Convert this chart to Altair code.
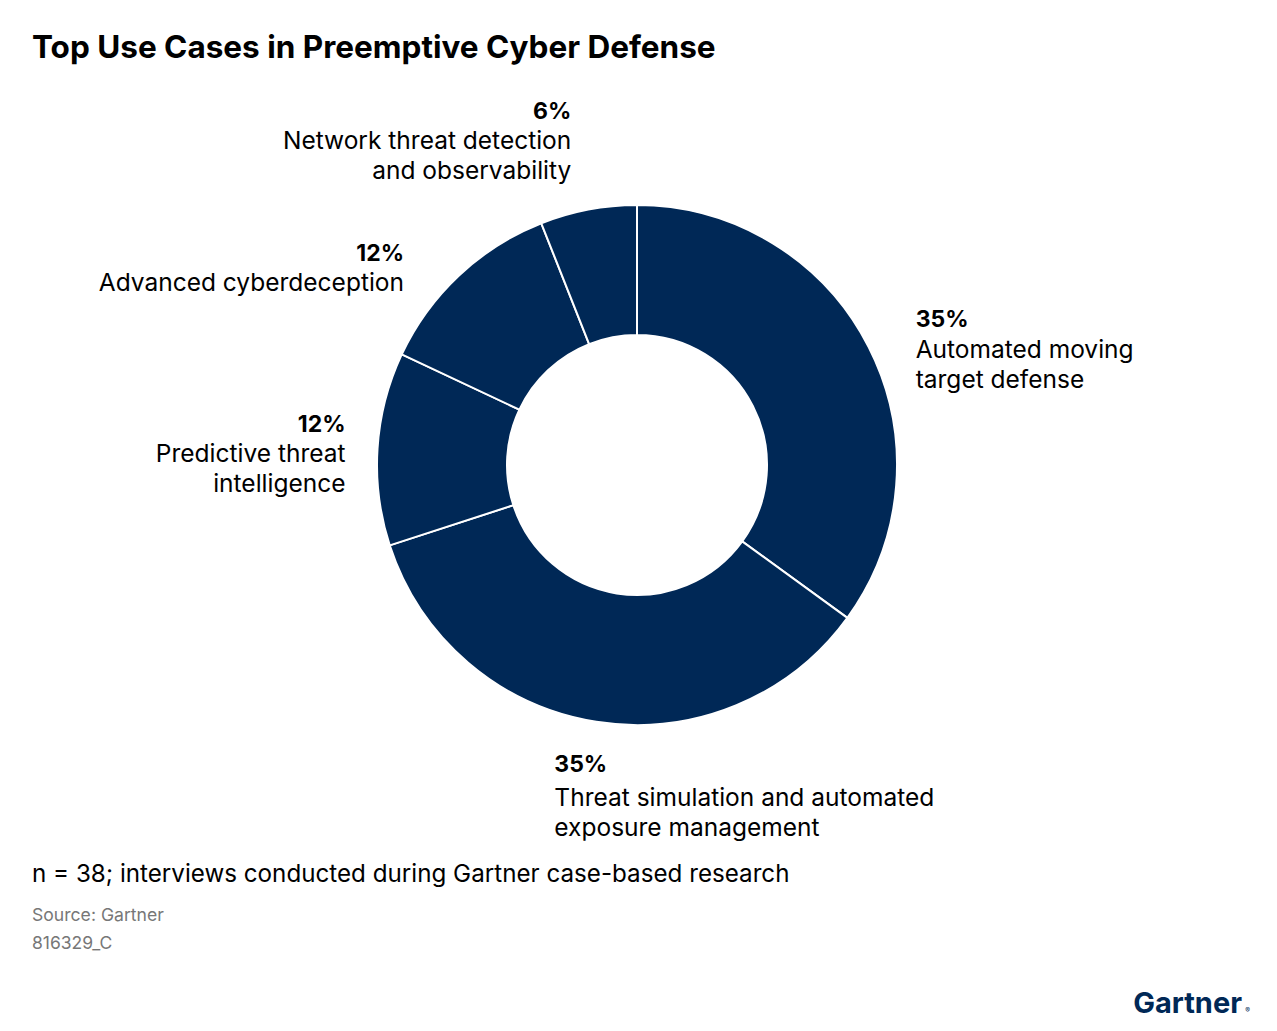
import altair as alt
import pandas as pd

# ---- data ----
categories = [
    "Automated moving target defense",
    "Threat simulation and automated exposure management",
    "Predictive threat intelligence",
    "Advanced cyberdeception",
    "Network threat detection and observability",
]
label_lines = [
    ["Automated moving", "target defense"],
    ["Threat simulation and automated", "exposure management"],
    ["Predictive threat", "intelligence"],
    ["Advanced cyberdeception"],
    ["Network threat detection", "and observability"],
]
values = [35, 35, 12, 12, 6]

title_text = "Top Use Cases in Preemptive Cyber Defense"
note_text = "n = 38; interviews conducted during Gartner case-based research"
source_text = "Source: Gartner"
id_text = "816329_C"
logo_text = "Gartner"

df = pd.DataFrame({
    "idx": list(range(len(values))),
    "category": categories,
    "value": values,
    "pct": [f"{v}%" for v in values],
    "name": ["\n".join(l) for l in label_lines],
})

NAVY = "#002856"
FONT = "Inter"
CX, CY = 629, 457
theta_scale = alt.Scale(domain=[0, 100])

arcs = alt.Chart(df).mark_arc(
    innerRadius=130, outerRadius=260, stroke="white", strokeWidth=2, color=NAVY
).encode(
    theta=alt.Theta("value:Q", stack=True, scale=theta_scale),
    order=alt.Order("idx:Q"),
    x=alt.value(CX),
    y=alt.value(CY),
)

# label layout: (align, dx, dy for percent line, dy for name lines)
layout = [
    ("left", 47, -20, 11),
    ("left", -42, 50, 84),
    ("right", -32, -17, 13),
    ("right", -55, -14, 16),
    ("right", -17, -91, -61),
]


def label_base(i):
    return alt.Chart(df).transform_window(
        cum="sum(value)", sort=[alt.SortField("idx", order="ascending")],
        frame=[None, 0]
    ).transform_calculate(
        mid="datum.cum - datum.value / 2"
    ).transform_filter(
        alt.datum.idx == i
    ).encode(
        theta=alt.Theta("mid:Q", stack=None, scale=theta_scale),
        x=alt.value(CX),
        y=alt.value(CY),
    )


label_layers = []
for i, (align, dx, dyp, dyn) in enumerate(layout):
    b = label_base(i)
    label_layers.append(
        b.mark_text(radius=260, align=align, baseline="alphabetic", dx=dx, dy=dyp,
                    font=FONT, fontSize=23, fontWeight="bold", color="black")
        .encode(text="pct:N")
    )
    label_layers.append(
        b.mark_text(radius=260, align=align, baseline="alphabetic", dx=dx, dy=dyn,
                    font=FONT, fontSize=24.5, fontWeight="normal", color="black",
                    lineBreak="\n", lineHeight=30)
        .encode(text="name:N")
    )


def annot(text, x, y, size, weight="normal", color="black", align="left"):
    return alt.Chart(pd.DataFrame({"t": [text]})).mark_text(
        align=align, baseline="alphabetic", font=FONT, fontSize=size,
        fontWeight=weight, color=color
    ).encode(text="t:N", x=alt.value(x), y=alt.value(y))


annots = [
    annot(title_text, 24, 50, 31.5, weight="bold"),
    annot(note_text, 24, 874, 24.2),
    annot(source_text, 24, 913, 17.6, color="#777777"),
    annot(id_text, 24, 941, 17.5, color="#777777"),
    annot(logo_text, 1234, 1005, 29, weight="bold", color=NAVY, align="right"),
    annot("®", 1242, 1005, 7, color=NAVY, align="right"),
]

chart = alt.layer(arcs, *label_layers, *annots).properties(
    width=1261, height=1015, padding=0, autosize="none"
).configure_view(stroke=None)

chart.save("out.html", embed_options={"renderer": "svg", "actions": False})
